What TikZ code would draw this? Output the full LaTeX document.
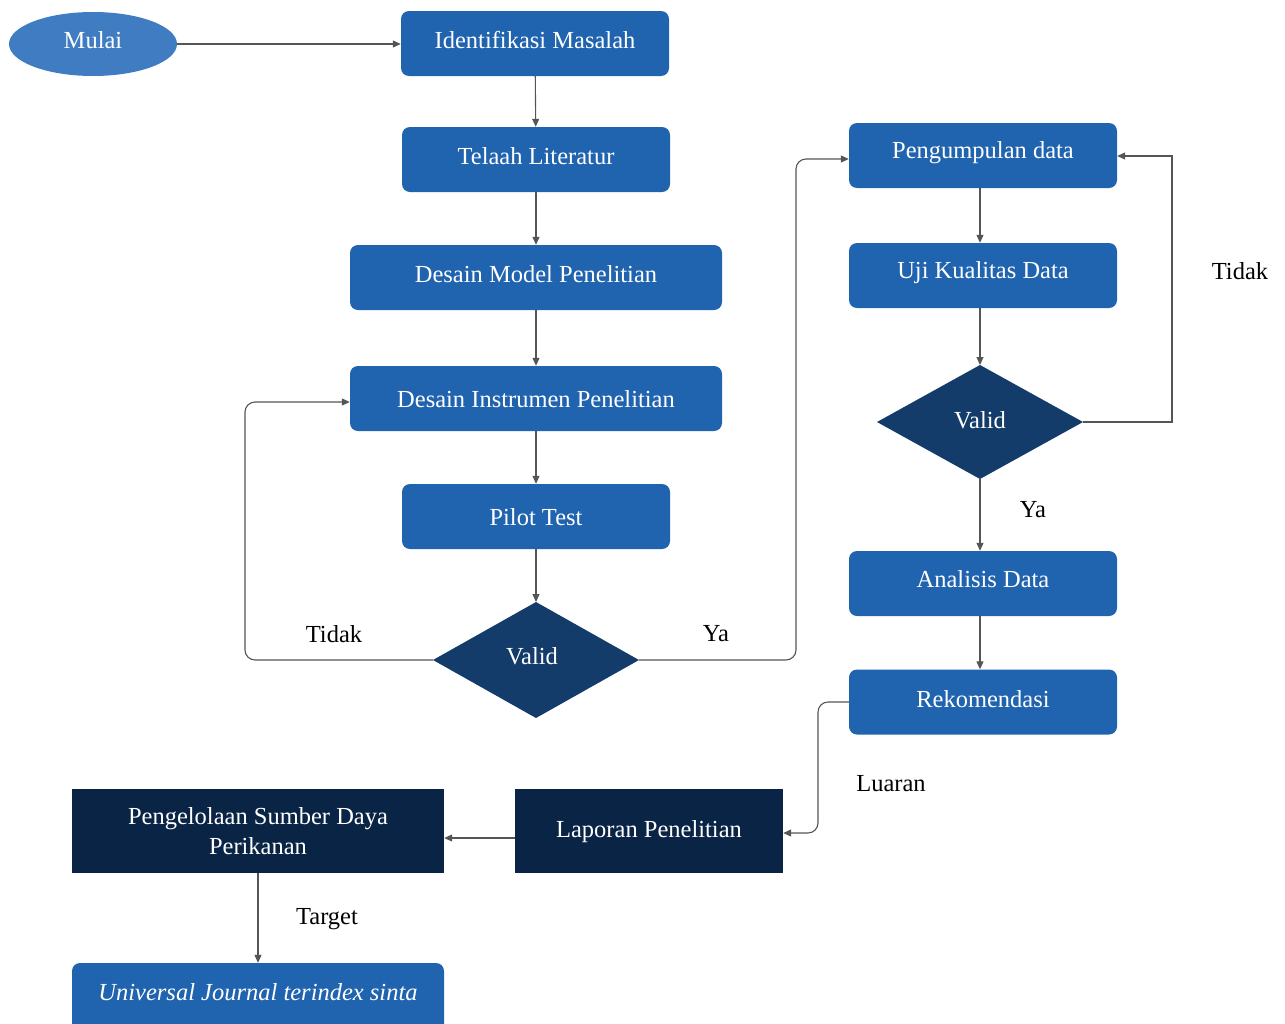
\documentclass[tikz,border=0pt]{standalone}
\usepackage{fontspec}
\setmainfont{Liberation Serif}
\usetikzlibrary{shapes.geometric,arrows.meta}
\definecolor{boxblue}{HTML}{2063AF}
\definecolor{ellblue}{HTML}{3F7CC2}
\definecolor{diablue}{HTML}{143C6A}
\definecolor{darknavy}{HTML}{0A2445}
\definecolor{linegray}{HTML}{555555}
\newcommand{\fsz}{\fontsize{24.5}{30}\selectfont}
\tikzset{
  box/.style={draw=none,fill=boxblue,rounded corners=8pt,text=white,minimum height=65pt,font=\fsz,inner sep=0pt},
  dbox/.style={draw=none,fill=darknavy,text=white,minimum height=84pt,font=\fsz,inner sep=0pt,align=center},
  conn/.style={draw=linegray,line width=1.1pt,-{Triangle[length=8pt,width=7pt]}},
  lbl/.style={font=\fsz,text=black,inner sep=0pt}
}
\begin{document}
\begin{tikzpicture}[x=1pt,y=-1pt]
\useasboundingbox (0,0) rectangle (1285,1023);
% nodes
\node[ellipse,fill=ellblue,text=white,minimum width=168pt,minimum height=64pt,inner sep=0pt,font=\fsz] (mulai) at (93,44) {};
\node[lbl,text=white] (mulaitxt) at (93,40) {Mulai};
\node[box,minimum width=268pt] (ident) at (535,43.5) {};
\node[lbl,text=white] (identtxt) at (535,40) {Identifikasi Masalah};
\node[box,minimum width=268pt] (telaah) at (536,159.5) {};
\node[lbl,text=white] (telaahtxt) at (536,156) {Telaah Literatur};
\node[box,minimum width=372pt] (model) at (536,277.5) {};
\node[lbl,text=white] (modeltxt) at (536,274) {Desain Model Penelitian};
\node[box,minimum width=372pt] (instr) at (536,398.5) {};
\node[lbl,text=white] (instrtxt) at (536,399) {Desain Instrumen Penelitian};
\node[box,minimum width=268pt] (pilot) at (536,516.5) {};
\node[lbl,text=white] (pilottxt) at (536,517) {Pilot Test};
\path[fill=diablue] (433,660) -- (536,602) -- (639,660) -- (536,718) -- cycle;
\node[lbl,text=white] (valid1) at (532,656) {Valid};
\coordinate (v1t) at (536,602);
\coordinate (v1l) at (433,660);
\coordinate (v1r) at (639,660);
\node[box,minimum width=268pt] (kumpul) at (983,155.5) {};
\node[lbl,text=white] (kumpultxt) at (983,153) {Pengumpulan data};
\node[box,minimum width=268pt] (uji) at (983,275.5) {};
\node[lbl,text=white] (ujitxt) at (983,273) {Uji Kualitas Data};
\path[fill=diablue] (877,422) -- (980,365) -- (1083,422) -- (980,479) -- cycle;
\node[lbl,text=white] (valid2) at (980,420) {Valid};
\coordinate (v2t) at (980,365);
\coordinate (v2r) at (1083,422);
\coordinate (v2b) at (980,479);
\node[box,minimum width=268pt] (analisis) at (983,583.5) {};
\node[lbl,text=white] (analisistxt) at (983,579) {Analisis Data};
\node[box,minimum width=268pt] (rekom) at (983,702) {};
\node[lbl,text=white] (rekomtxt) at (983,699) {Rekomendasi};
\node[dbox,minimum width=268pt] (lapor) at (649,831) {};
\node[lbl,text=white] (laportxt) at (649,832) {Laporan Penelitian};
\node[dbox,minimum width=372pt] (kelola) at (258,831) {};
\node[lbl,text=white,align=center] (kelolatxt) at (258,831) {Pengelolaan Sumber Daya\\Perikanan};
\node[box,minimum width=372pt,minimum height=76pt] (jurnal) at (258,1001) {};
\node[font=\fsz\itshape,text=white,inner sep=0pt] (jurnaltxt) at (258,992) {Universal Journal terindex sinta};
% labels
\node[lbl] (t1) at (334,634) {Tidak};
\node[lbl] (y1) at (716,634) {Ya};
\node[lbl] (t2) at (1240,271) {Tidak};
\node[lbl] (y2) at (1033,510) {Ya};
\node[lbl] (luaran) at (891,784) {Luaran};
\node[lbl] (target) at (327,919) {Target};
% connectors
\draw[conn] (mulai.east) -- (ident.west |- mulai.east);
\draw[conn] (ident) -- (telaah);
\draw[conn] (telaah) -- (model);
\draw[conn] (model) -- (instr);
\draw[conn] (instr) -- (pilot);
\draw[conn] (pilot) -- (v1t);
\draw[conn,rounded corners=10pt] (v1l) -- (245,660) -- (245,402) -- (instr.west |- 0,402);
\draw[conn,rounded corners=10pt] (v1r) -- (796,660) -- (796,159) -- (kumpul.west |- 0,159);
\draw[conn] (kumpul.south -| 980,0) -- (uji.north -| 980,0);
\draw[conn] (uji.south -| 980,0) -- (v2t);
\draw[conn] (v2r) -- (1172,422) -- (1172,156) -- (kumpul.east |- 0,156);
\draw[conn] (v2b) -- (analisis.north -| 980,0);
\draw[conn] (analisis.south -| 980,0) -- (rekom.north -| 980,0);
\draw[conn,rounded corners=10pt] (rekom.west) -- (818,702) -- (818,833) -- (lapor.east |- 0,833);
\draw[conn] (lapor.west |- 0,838) -- (kelola.east |- 0,838);
\draw[conn] (kelola.south) -- (jurnal.north);
\end{tikzpicture}
\end{document}
